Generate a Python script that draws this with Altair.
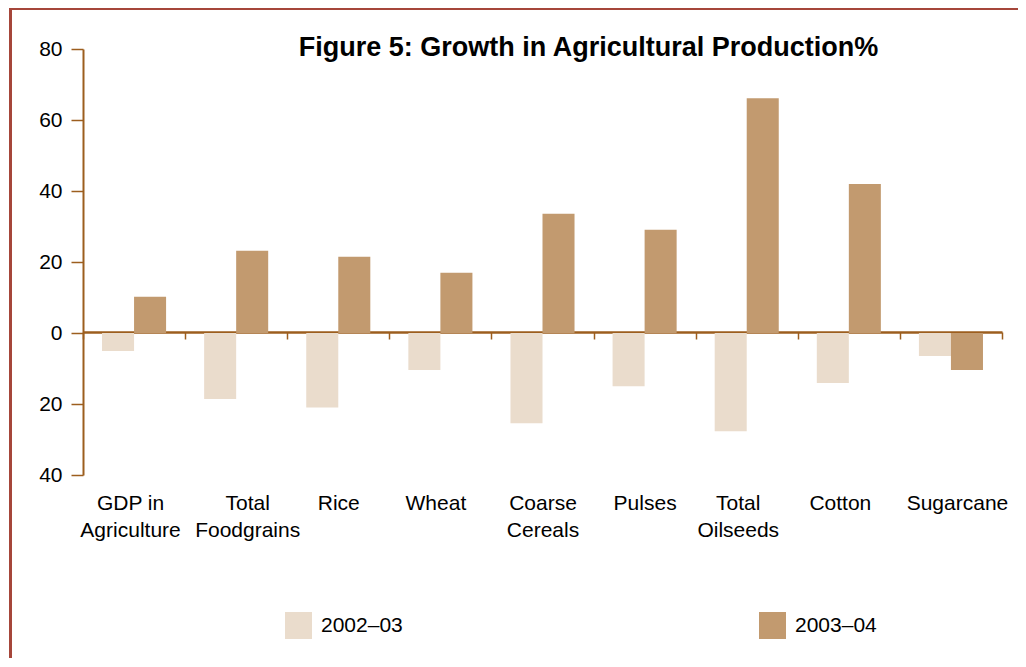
import altair as alt
import pandas as pd

categories = [
    "GDP in\nAgriculture", "Total\nFoodgrains", "Rice", "Wheat",
    "Coarse\nCereals", "Pulses", "Total\nOilseeds", "Cotton", "Sugarcane",
]
series = ["2002–03", "2003–04"]
values_2002_03 = [-5.1, -18.6, -21.0, -10.4, -25.4, -15.0, -27.7, -14.1, -6.5]
values_2003_04 = [10.2, 23.2, 21.5, 17.0, 33.6, 29.1, 66.1, 42.0, -10.4]
y_ticks = [-40, -20, 0, 20, 40, 60, 80]
title_text = ["Figure 5: Growth in Agricultural Production%"]
# small horizontal nudges of the category labels, as in the original
label_nudge = {"Agriculture": -4, "Foodgrains": 11, "Wheat": -5,
               "Oilseeds": -9, "Cotton": -9, "Sugarcane": 6}

colors = ["#EADCCC", "#C29A6F"]
brown = "#9C5E1E"
frame = "#A5463A"
FONT = "Liberation Sans"
FS = 21

rows = []
for c, a, b in zip(categories, values_2002_03, values_2003_04):
    rows.append({"category": c, "year": series[0], "value": a})
    rows.append({"category": c, "year": series[1], "value": b})
df = pd.DataFrame(rows)

nudge_expr = "0"
for k, v in label_nudge.items():
    nudge_expr = (
        f"(datum && isString(datum.value) && indexof(datum.value, '{k}') >= 0"
        f" ? {v} : {nudge_expr})"
    )

bars = alt.Chart(df).mark_bar().encode(
    x=alt.X(
        "category:N",
        sort=categories,
        scale=alt.Scale(paddingInner=0, paddingOuter=0),
        axis=alt.Axis(
            title=None,
            orient="bottom",
            offset=-143,
            domainColor=brown,
            domainWidth=2.5,
            tickColor=brown,
            tickWidth=1.5,
            tickSize=7,
            tickBand="extent",
            labelAngle=0,
            labelFontSize=FS,
            labelColor="black",
            labelFont=FONT,
            labelLineHeight=27,
            labelPadding=153,
            labelLimit=0,
            labelOverlap=False,
            labelOffset={"expr": nudge_expr},
            labelExpr="split(datum.label, '\\n')",
        ),
    ),
    xOffset=alt.XOffset(
        "year:N",
        sort=series,
        scale=alt.Scale(paddingInner=0, paddingOuter=0.594),
    ),
    y=alt.Y(
        "value:Q",
        scale=alt.Scale(domain=[-40, 80], nice=False, zero=False),
        axis=alt.Axis(
            title=None,
            values=y_ticks,
            labelExpr="abs(datum.value)",
            grid=False,
            domainColor=brown,
            domainWidth=2,
            tickColor=brown,
            tickWidth=1.5,
            tickSize=12,
            labelFontSize=FS,
            labelColor="black",
            labelFont=FONT,
            labelPadding=9,
        ),
    ),
    color=alt.Color(
        "year:N",
        sort=series,
        scale=alt.Scale(domain=series, range=colors),
        legend=alt.Legend(
            title=None,
            orient="none",
            legendX=202,
            legendY=563,
            direction="horizontal",
            columns=2,
            columnPadding=356,
            symbolType="square",
            symbolSize=729,
            symbolStrokeWidth=0,
            symbolOpacity=1,
            labelFontSize=FS,
            labelFont=FONT,
            labelColor="black",
            labelOffset=9,
            padding=0,
        ),
    ),
)

title = alt.Chart(pd.DataFrame({"t": title_text})).mark_text(
    font=FONT, fontSize=27, fontWeight="bold", color="black",
    align="center", baseline="middle",
).encode(text="t:N", x=alt.value(505.5), y=alt.value(-1))

frame_left = alt.Chart(df).mark_rule(color=frame, strokeWidth=2).encode(
    x=alt.value(-72.5), y=alt.value(-41), y2=alt.value(700)
)
frame_top = alt.Chart(df).mark_rule(color=frame, strokeWidth=2).encode(
    y=alt.value(-40.5), x=alt.value(-73), x2=alt.value(1000)
)

chart = (
    alt.layer(bars, title, frame_left, frame_top)
    .properties(
        width=919,
        height=426,
        autosize=alt.AutoSizeParams(type="none"),
        padding={"left": 75, "top": 41, "right": 16, "bottom": 183},
        view=alt.ViewBackground(stroke="transparent", strokeWidth=0),
    )
    .configure_view(stroke="transparent", strokeWidth=0)
    .configure(font=FONT)
)

chart.save("out.html", embed_options={"renderer": "svg", "actions": False})
